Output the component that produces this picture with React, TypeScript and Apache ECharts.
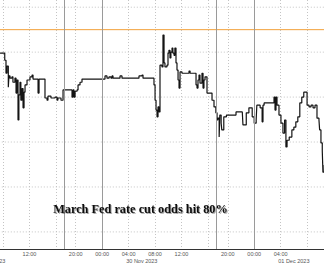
import React, { useEffect, useRef } from 'react';
import * as echarts from 'echarts';

// Trading-hour axis: hour index -2 .. 49 (session break after 17:00, resumes 18:00)
const hourLabels = [
  '06:00', '07:00', '08:00', '09:00', '10:00', '11:00', '12:00', '13:00', '14:00', '15:00', '16:00',
  '18:00', '19:00', '20:00', '21:00', '22:00', '23:00', '00:00', '01:00', '02:00', '03:00', '04:00',
  '05:00', '06:00', '07:00', '08:00', '09:00', '10:00', '11:00', '12:00', '13:00', '14:00', '15:00',
  '16:00', '18:00', '19:00', '20:00', '21:00', '22:00', '23:00', '00:00', '01:00', '02:00', '03:00',
  '04:00', '05:00', '06:00', '07:00', '08:00', '09:00', '10:00', '11:00',
];
const firstHour = -2;
const lastHour = 49;
const labelledHours = [0, 4, 11, 15, 19, 23, 27, 34, 38, 42, 46];
const dottedHours = [0, 4, 8, 11, 19, 23, 27, 31, 34, 42, 46];
const solidHours = [9.2, 15, 32.2, 38];
const dateHours = [-2, 21, 44];
const dateTexts = ['29 Nov 2023', '30 Nov 2023', '01 Dec 2023'];

const gridLevels = [30, 40, 50, 60, 70, 80];
const thresholdLevel = 75;
const oddsMin = 26.2;
const oddsMax = 81.6;

// 29 Nov session
const s1Hours = [-0.45, 0.0, 0.26, 0.45, 0.6, 0.8, 0.9, 1.06, 1.36, 1.5, 1.8, 1.97, 2.1, 2.27, 2.4, 2.57, 2.7, 2.87, 3.03, 3.18, 3.33, 3.63, 4.08, 4.39, 4.54, 5.14, 5.3, 5.45, 6.2, 6.35, 6.66, 6.8, 7.1, 7.26, 7.87, 8.17, 8.3, 8.77];
const s1Odds = [69.8, 69.8, 68.2, 65.3, 66.9, 62.2, 64.7, 64.2, 64.5, 63.3, 64.2, 60.9, 63.8, 54.9, 60.5, 63.3, 59.3, 61.9, 57.6, 61.1, 62.7, 63.8, 64.5, 64.9, 64.0, 64.0, 60.9, 64.0, 64.0, 59.8, 59.3, 60.2, 60.2, 59.8, 60.0, 59.3, 59.8, 59.3];
// 30 Nov session
const s2Hours = [9.08, 10.3, 10.44, 10.6, 10.74, 10.9, 11.2, 11.35, 11.65, 11.95, 15.28, 15.43, 15.73, 16.04, 16.34, 16.5, 16.64, 17.55, 17.7, 18.0, 20.42, 20.57, 21.03, 21.18, 22.7, 22.84, 23.0, 23.15, 23.3, 23.45, 23.6, 23.75, 24.05, 24.2, 24.36, 24.5, 24.8, 24.96, 25.1, 25.26, 25.4, 25.57, 25.7, 25.87, 26.0, 26.17, 26.32, 26.48, 26.63, 26.78, 27.08, 28.14, 28.3, 29.05, 29.2, 29.35, 29.5, 29.65, 29.8, 30.1, 30.26, 30.4, 30.56, 30.86, 31.3, 31.62, 31.92];
const s2Odds = [61.6, 61.6, 60.0, 61.6, 60.0, 61.3, 61.6, 62.7, 63.3, 64.0, 64.0, 64.7, 64.2, 64.5, 64.2, 64.7, 64.2, 64.2, 64.7, 64.2, 64.2, 64.7, 64.9, 64.2, 64.2, 62.7, 59.3, 57.1, 55.6, 57.8, 56.7, 67.1, 66.7, 73.8, 67.6, 66.7, 67.1, 69.8, 70.4, 68.7, 70.0, 70.9, 69.8, 69.3, 70.9, 67.6, 66.0, 63.8, 62.0, 65.6, 65.3, 65.8, 65.3, 65.3, 62.7, 62.0, 63.8, 64.9, 63.1, 65.3, 62.0, 63.8, 64.5, 60.9, 60.9, 59.3, 57.8];
// 01 Dec session
const s3Hours = [32.2, 32.38, 32.5, 32.7, 32.8, 33.0, 33.1, 33.4, 33.8, 35.25, 36.2, 36.3, 36.8, 37.2, 37.7, 38.0, 38.3, 38.4, 38.9, 39.2, 39.33, 39.5, 40.7, 41.0, 41.15, 41.3, 41.45, 41.75, 42.05, 42.35, 42.6, 42.8, 42.97, 43.3, 43.7, 44.0, 44.3, 44.6, 44.9, 45.2, 45.5, 45.8, 46.0, 46.3, 46.6, 46.9, 47.2, 47.5, 47.8, 47.9, 48.1, 48.3, 48.4, 48.6];
const s3Odds = [56.5, 54.9, 55.3, 51.1, 56.0, 54.2, 52.7, 55.6, 56.0, 56.7, 56.7, 53.8, 56.5, 57.6, 55.6, 54.2, 54.9, 58.2, 57.6, 54.5, 58.2, 58.7, 58.7, 60.0, 57.1, 60.0, 58.2, 56.0, 54.2, 52.0, 54.9, 48.9, 50.4, 51.1, 52.7, 53.3, 54.5, 55.6, 58.7, 60.0, 61.1, 61.1, 58.2, 57.8, 58.2, 57.6, 58.2, 55.3, 54.9, 52.7, 49.8, 48.0, 43.3, 44.9];

const titleText = 'March Fed rate cut odds hit 80%';

export default function App() {
  const ref = useRef<HTMLDivElement>(null);
  useEffect(() => {
    document.body.style.margin = '0';
    const chart = echarts.init(ref.current!, null, { renderer: 'svg' });
    const hours = [...s1Hours, ...s2Hours, ...s3Hours];
    const odds = [...s1Odds, ...s2Odds, ...s3Odds];
    const lineData = hours.map((h, i) => [h, odds[i]]);
    const dotted = () => ({ color: '#c4c4c4', width: 1, type: [1, 2], opacity: 1 });
    const vLine = (x: number, style: any) => [
      { coord: [x, oddsMin], lineStyle: style },
      { coord: [x, oddsMax] },
    ];
    const solid = () => ({ color: '#9a9a9a', width: 1, type: 'solid', opacity: 1 });
    const levelSeries = (level: number, style: any, z: number) => ({
      type: 'line',
      xAxisIndex: 0,
      data: [[firstHour, level], [lastHour, level]],
      symbol: 'none',
      showSymbol: false,
      silent: true,
      z,
      lineStyle: style,
    });
    const option: any = {
      animation: false,
      backgroundColor: '#ffffff',
      grid: { left: -10.2, right: -2.9, top: 0, bottom: 14, containLabel: false, outerBoundsMode: 'none' },
      xAxis: [
        { type: 'value', min: firstHour, max: lastHour, show: false },
        {
          type: 'category',
          data: hourLabels,
          boundaryGap: false,
          position: 'bottom',
          axisLine: { show: true, onZero: false, lineStyle: { color: '#333333', width: 1 } },
          axisTick: { show: false },
          axisLabel: {
            interval: (i: number) => {
              const h = i + firstHour;
              return labelledHours.includes(h) || dateHours.includes(h);
            },
            formatter: (v: string, i: number) => {
              const h = i + firstHour;
              const d = dateHours.indexOf(h);
              if (d >= 0) return '\n' + dateTexts[d];
              return v;
            },
            showMinLabel: true,
            showMaxLabel: false,
            hideOverlap: false,
            fontSize: 5.5,
            lineHeight: 6.5,
            fontFamily: 'Liberation Sans',
            color: '#555555',
            margin: 2,
          },
          splitLine: {
            show: true,
            interval: (i: number) => dottedHours.includes(i + firstHour),
            lineStyle: dotted(),
          },
        },
      ],
      yAxis: { type: 'value', min: oddsMin, max: oddsMax, show: false },
      series: [
        ...gridLevels.map((lvl) => levelSeries(lvl, dotted(), 1)),
        {
          type: 'line',
          xAxisIndex: 0,
          data: lineData,
          symbol: 'none',
          silent: true,
          z: 1,
          lineStyle: { opacity: 0 },
          markLine: {
            silent: true,
            symbol: ['none', 'none'],
            label: { show: false },
            animation: false,
            data: solidHours.map((x) => vLine(x, solid())),
          },
        },
        levelSeries(thresholdLevel, { color: '#f2a13a', width: 1, type: 'solid' }, 2),
        {
          type: 'line',
          xAxisIndex: 0,
          step: 'end',
          data: lineData,
          symbol: 'none',
          z: 3,
          lineStyle: { color: '#141414', width: 1.2 },
        },
      ],
      graphic: [
        {
          type: 'text',
          x: 140.5,
          y: 209,
          z: 10,
          style: {
            text: titleText,
            fontFamily: 'Liberation Serif',
            fontWeight: 'bold',
            fontSize: 12.3,
            fill: '#111111',
            align: 'center',
            verticalAlign: 'middle',
            textShadowColor: 'rgba(0,0,0,0.35)',
            textShadowBlur: 1.5,
            textShadowOffsetX: 1,
            textShadowOffsetY: 1,
          },
        },
      ],
    };
    chart.setOption(option);
    return () => chart.dispose();
  }, []);
  return <div ref={ref} style={{ width: 324, height: 263 }} />;
}
